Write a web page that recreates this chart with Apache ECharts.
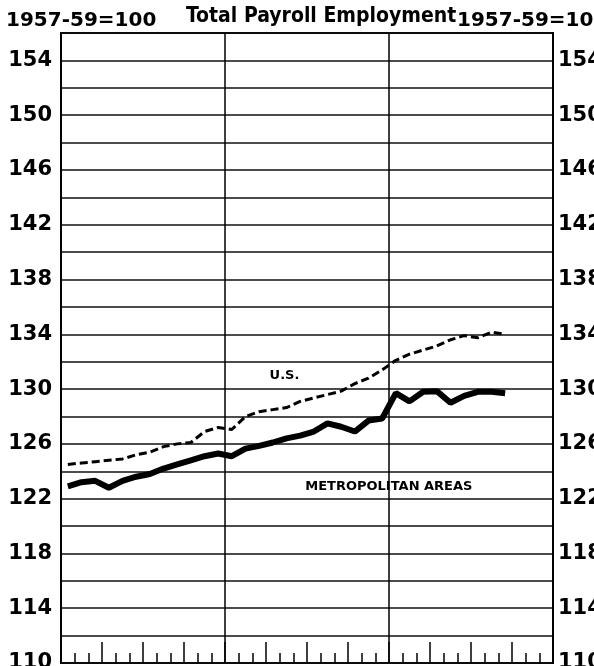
<!DOCTYPE html>
<html>
<head>
<meta charset="utf-8">
<script src="https://cdn.jsdelivr.net/npm/echarts@6/dist/echarts.min.js"></script>
<style>
  html, body { margin: 0; padding: 0; background: #fff; }
  #chart { width: 594px; height: 666px; }
</style>
</head>
<body>
<div id="chart"></div>
<script>
// months on the x axis, three years
var monthNames = ["Jan", "Feb", "Mar", "Apr", "May", "Jun", "Jul", "Aug", "Sep", "Oct", "Nov", "Dec"];
var years = ["Y1", "Y2", "Y3"];
var categories = [];
years.forEach(function (y) {
  monthNames.forEach(function (m) { categories.push(m + " " + y); });
});

// index, 1957-59=100
var usValues = [124.5, 124.6, 124.7, 124.8, 124.9, 125.2, 125.4, 125.8, 126.0, 126.1, 126.9, 127.2,
  127.05, 128.0, 128.35, 128.5, 128.65, 129.1, 129.35, 129.6, 129.85, 130.4, 130.8, 131.4,
  132.1, 132.55, 132.85, 133.15, 133.6, 133.9, 133.75, 134.15, 134.0];
var metroValues = [122.9, 123.2, 123.3, 122.8, 123.3, 123.6, 123.8, 124.2, 124.5, 124.8, 125.1, 125.3,
  125.1, 125.65, 125.85, 126.1, 126.4, 126.6, 126.9, 127.5, 127.25, 126.9, 127.7, 127.85,
  129.7, 129.1, 129.8, 129.85, 129.0, 129.5, 129.8, 129.8, 129.7];

var yMin = 110, yMax = 156, yStep = 2, labelStep = 4;

var chart = echarts.init(document.getElementById("chart"));

var tickFont = { fontFamily: "DejaVu Sans", fontWeight: "bold", fontSize: 21, color: "#000" };
var baseFont = { fontFamily: "DejaVu Sans", fontWeight: "bold", fontSize: 20, color: "#000" };
var noteFont = { fontFamily: "DejaVu Sans", fontWeight: "bold", fontSize: 13, color: "#000" };

function yAxisOf(pos, margin) {
  return {
    type: "value",
    position: pos,
    min: yMin,
    max: yMax,
    interval: yStep,
    axisLine: { show: false },
    axisTick: { show: false },
    axisLabel: Object.assign({
      margin: margin,
      formatter: function (v) { return (v - yMin) % labelStep === 0 ? String(v) : ""; }
    }, tickFont),
    splitLine: { show: pos === "left", lineStyle: { color: "#111", width: 1.5 } }
  };
}

var option = {
  animation: false,
  backgroundColor: "#fff",
  title: [
    { text: "1957-59=100", left: 1, top: 6, textStyle: baseFont },
    { text: "Total Payroll Employment", left: 181, top: 1, textStyle: { fontFamily: "DejaVu Sans Condensed", fontWeight: "bold", fontSize: 21, color: "#000" } },
    { text: "1957-59=100", left: 452, top: 6, textStyle: baseFont }
  ],
  grid: {
    left: 61, right: 41, top: 33, bottom: 3,
    show: true, borderColor: "#000", borderWidth: 2,
    outerBoundsMode: "none"
  },
  xAxis: [
    {
      type: "category", data: categories, boundaryGap: true, position: "bottom",
      axisLine: { show: false },
      axisTick: { show: true, inside: true, length: 10, interval: 0, lineStyle: { color: "#000", width: 1.5 } },
      axisLabel: { show: false },
      splitLine: { show: false }
    },
    {
      type: "category", data: categories, boundaryGap: true, position: "bottom",
      axisLine: { show: false },
      axisTick: { show: true, inside: true, length: 21, interval: 2, lineStyle: { color: "#000", width: 1.5 } },
      axisLabel: { show: false },
      splitLine: { show: false }
    },
    {
      type: "category", data: categories, boundaryGap: true, position: "top",
      axisLine: { show: false },
      axisTick: { show: false },
      axisLabel: { show: false },
      splitLine: { show: true, interval: 11, lineStyle: { color: "#000", width: 1.5 } }
    }
  ],
  yAxis: [yAxisOf("left", 9), yAxisOf("right", 5)],
  series: [
    {
      name: "U.S.", type: "line", data: usValues, symbol: "none",
      lineStyle: { color: "#000", width: 3, type: [8, 4] },
      markPoint: {
        symbol: "circle", symbolSize: 0,
        label: Object.assign({ show: true, position: "inside", formatter: "U.S.", offset: [-2, 0] }, noteFont),
        data: [{ coord: [16, 131.0] }]
      }
    },
    {
      name: "Metropolitan Areas", type: "line", data: metroValues, symbol: "none",
      lineStyle: { color: "#000", width: 6 },
      markPoint: {
        symbol: "circle", symbolSize: 0,
        label: Object.assign({ show: true, position: "inside", formatter: "METROPOLITAN AREAS", offset: [-7, 0] }, noteFont),
        data: [{ coord: [24, 122.9] }]
      }
    }
  ]
};

chart.setOption(option);
</script>
</body>
</html>
